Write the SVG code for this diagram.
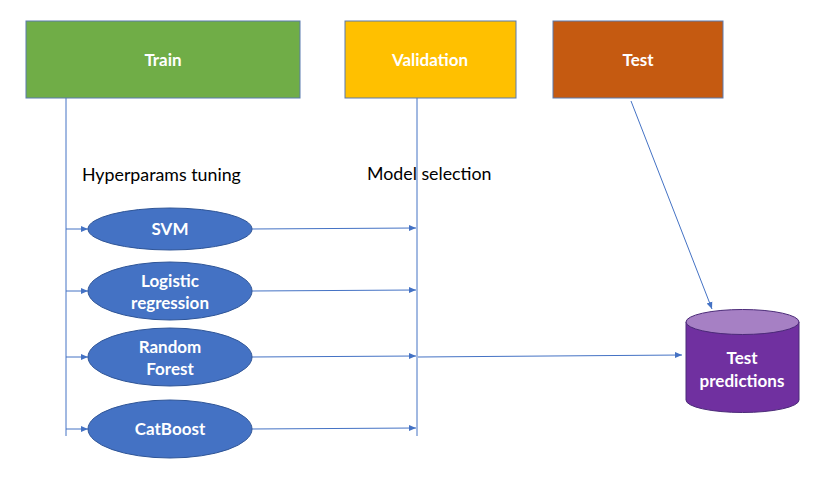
<svg xmlns="http://www.w3.org/2000/svg" width="823" height="480" viewBox="0 0 823 480">
<defs>
<marker id="ah" markerWidth="8" markerHeight="8" refX="7" refY="4" orient="auto" markerUnits="userSpaceOnUse">
<path d="M0,1 L7,4 L0,7 Z" fill="#4472C4"/>
</marker>
<style>
.box{stroke:#5A7AB0;stroke-width:1}
.lbl{font-family:Lato,"Open Sans",sans-serif;font-size:17px;font-weight:bold;fill:#fff;text-anchor:middle}
.txt{font-family:Lato,"Open Sans",sans-serif;font-size:17.8px;fill:#000}
.ell{fill:#4472C4;stroke:#2F5597;stroke-width:1}
.ln{stroke:#4472C4;stroke-width:1;fill:none}
.arr{stroke:#4472C4;stroke-width:1;fill:none;marker-end:url(#ah)}
</style>
</defs>
<rect width="823" height="480" fill="#fff"/>
<g id="connectors">
<line class="ln" x1="66" y1="98" x2="66" y2="436"/>
<line class="ln" x1="417" y1="98" x2="417" y2="436"/>
<line class="arr" x1="66" y1="229" x2="88" y2="229"/>
<line class="arr" x1="66" y1="291" x2="88" y2="291"/>
<line class="arr" x1="66" y1="357" x2="88" y2="357"/>
<line class="arr" x1="66" y1="429" x2="88" y2="429"/>
<line class="arr" x1="252" y1="229" x2="416" y2="228"/>
<line class="arr" x1="252" y1="291" x2="416" y2="290"/>
<line class="arr" x1="252" y1="357" x2="416" y2="356"/>
<line class="arr" x1="252" y1="429" x2="416" y2="428"/>
<line class="arr" x1="418" y1="357" x2="682" y2="355"/>
<line class="arr" x1="631" y1="101" x2="712" y2="309"/>
</g>
<g id="train"><rect class="box" x="26" y="21" width="274" height="77" fill="#70AD47"/><text class="lbl" x="163" y="66">Train</text></g>
<g id="validation"><rect class="box" x="345" y="21" width="171" height="77" fill="#FFC000"/><text class="lbl" x="430" y="66">Validation</text></g>
<g id="test"><rect class="box" x="553" y="21" width="170" height="77" fill="#C55A11"/><text class="lbl" x="638" y="66">Test</text></g>
<g id="hyper"><text class="txt" x="82" y="181">Hyperparams tuning</text></g>
<g id="modelsel"><text class="txt" x="367" y="180">Model selection</text></g>
<g id="svm"><ellipse class="ell" cx="170" cy="229" rx="82" ry="21"/><text class="lbl" x="170" y="235">SVM</text></g>
<g id="logreg"><ellipse class="ell" cx="170" cy="291" rx="82" ry="29"/><text class="lbl" x="170" y="287">Logistic</text><text class="lbl" x="170" y="309">regression</text></g>
<g id="rf"><ellipse class="ell" cx="170" cy="357" rx="82" ry="29"/><text class="lbl" x="170" y="353">Random</text><text class="lbl" x="170" y="375">Forest</text></g>
<g id="catboost"><ellipse class="ell" cx="170" cy="429" rx="82" ry="29"/><text class="lbl" x="170" y="435">CatBoost</text></g>
<g id="testpred">
<path d="M686,322 L686,400 A56.5,12.5 0 0 0 799,400 L799,322 Z" fill="#7030A0" stroke="#4B2A78" stroke-width="1"/>
<ellipse cx="742.5" cy="322" rx="56.5" ry="12.5" fill="#A680C4" stroke="#4B2A78" stroke-width="1"/>
<text class="lbl" x="742" y="364">Test</text>
<text class="lbl" x="742" y="387">predictions</text>
</g>
</svg>
